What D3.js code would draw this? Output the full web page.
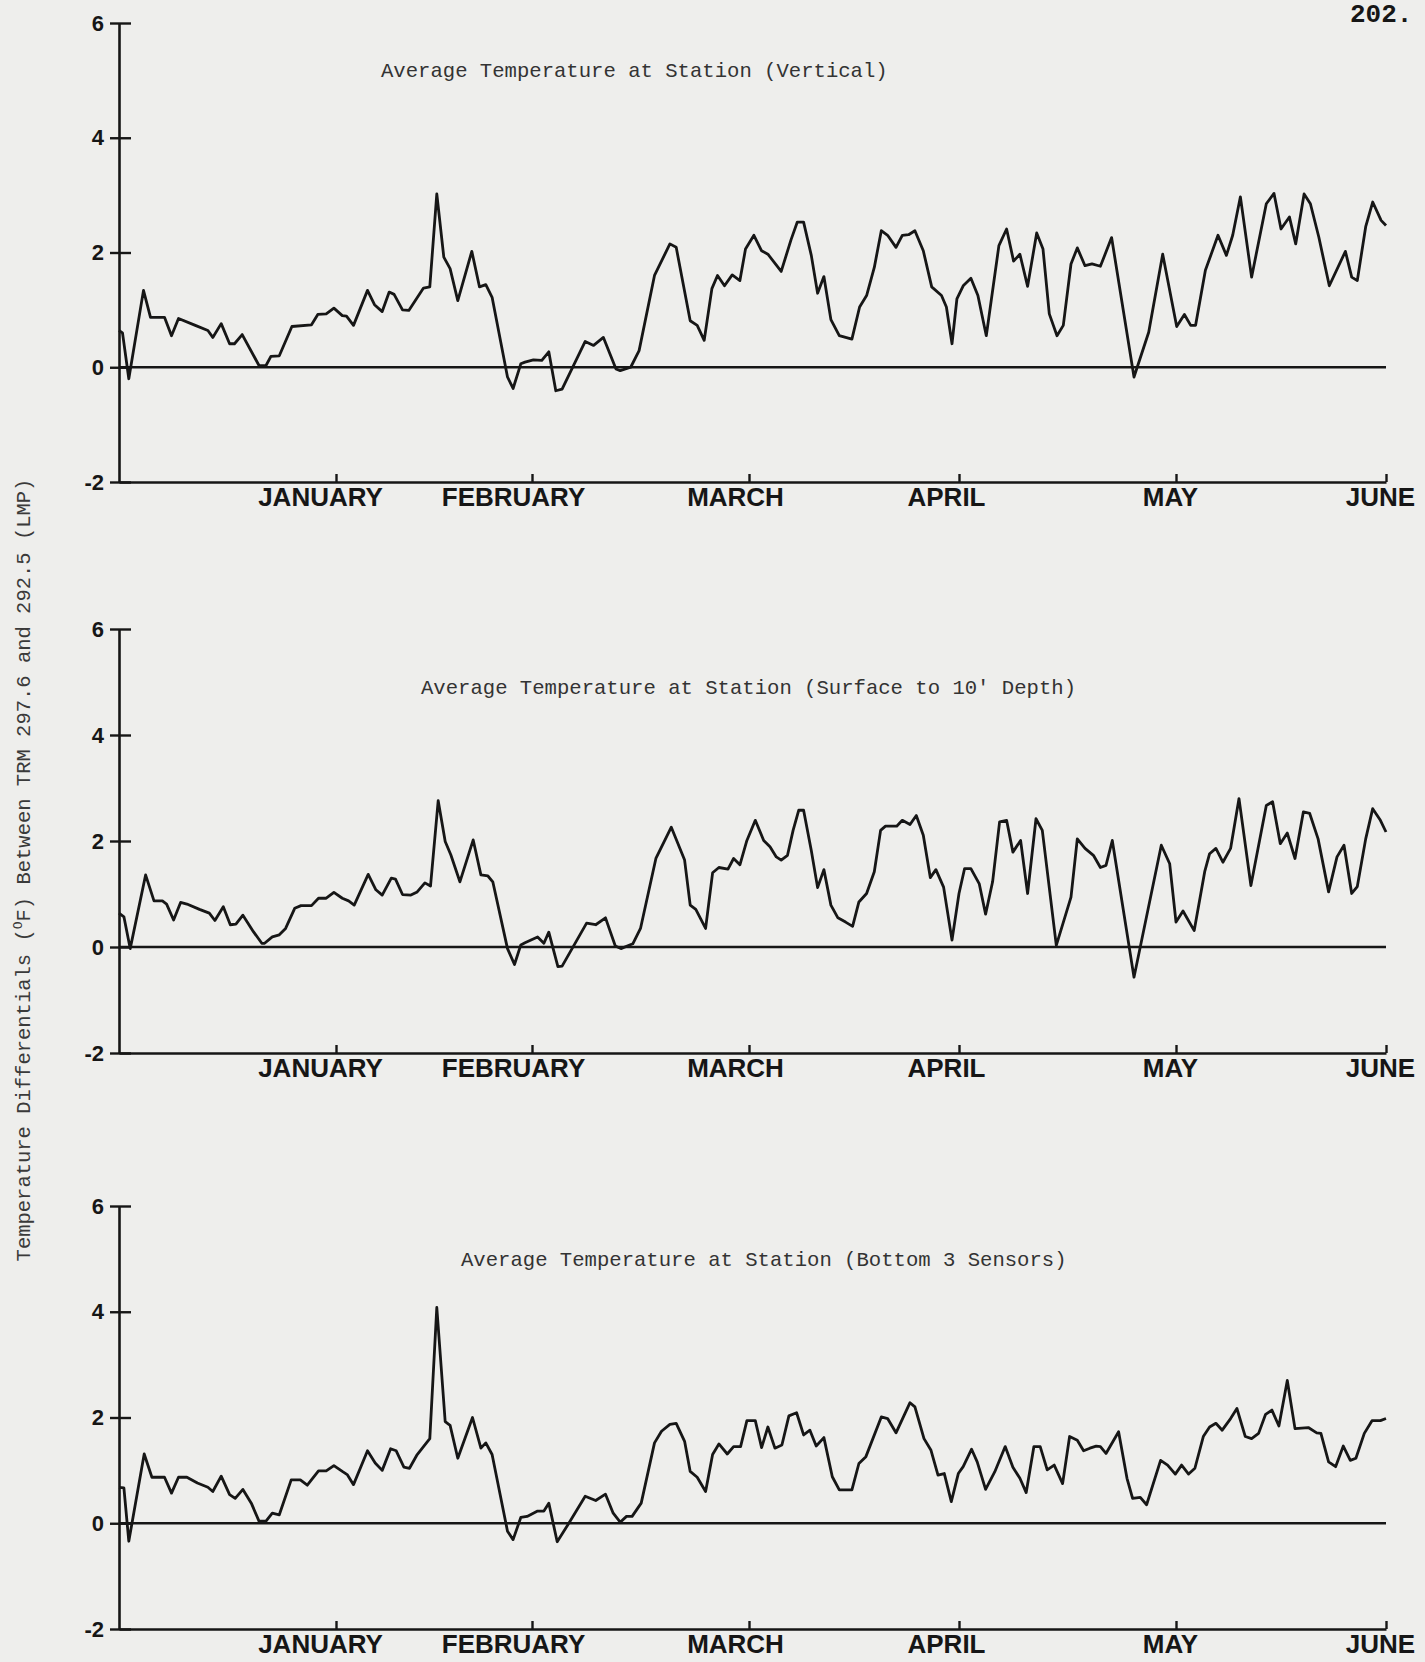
<!DOCTYPE html>
<html>
<head>
<meta charset="utf-8">
<script src="https://cdn.jsdelivr.net/npm/d3@7"></script>
<style>
	body { margin: 0; background: #eeeeec; }
	svg { display: block; }
</style>
</head>
<body>
<svg id="chart"></svg>
<script>
// day of year (0 = Jan 1) and temperature differential
var monthNames = ["JANUARY", "FEBRUARY", "MARCH", "APRIL", "MAY", "JUNE"];
var monthEndDays = [31, 59, 90, 120, 151, 181];
var yTickValues = [-2, 0, 2, 4, 6];
var panelTitles = [
	"Average Temperature at Station (Vertical)",
	"Average Temperature at Station (Surface to 10' Depth)",
	"Average Temperature at Station (Bottom 3 Sensors)"
];
var pageNumber = "202.";

var verticalSeries = [[0,0.64],[0.5,0.60],[1.4,-0.20],[3.5,1.34],[4.5,0.87],[6.5,0.87],[7.5,0.55],[8.5,0.85],[10.9,0.73],[12.7,0.64],[13.4,0.52],[14.6,0.76],[15.8,0.41],[16.5,0.41],[17.6,0.57],[20.0,0.03],[21.0,0.03],[21.7,0.19],[22.9,0.20],[24.7,0.71],[27.5,0.74],[28.4,0.92],[29.6,0.93],[30.7,1.03],[31.9,0.90],[32.5,0.89],[33.5,0.73],[35.5,1.34],[36.5,1.09],[37.6,0.97],[38.6,1.31],[39.3,1.27],[40.5,1.00],[41.4,0.99],[43.5,1.38],[44.4,1.40],[45.4,3.02],[46.4,1.92],[47.3,1.72],[48.4,1.16],[50.4,2.02],[51.5,1.40],[52.4,1.44],[53.3,1.22],[55.5,-0.17],[56.3,-0.37],[57.4,0.06],[58.0,0.09],[59.2,0.13],[60.4,0.12],[61.4,0.27],[62.4,-0.41],[63.3,-0.38],[66.6,0.45],[67.8,0.38],[69.2,0.52],[71.0,-0.03],[71.6,-0.06],[73.1,0.00],[74.3,0.29],[76.5,1.60],[78.7,2.15],[79.6,2.09],[81.6,0.81],[82.6,0.73],[83.6,0.47],[84.7,1.37],[85.5,1.60],[86.5,1.42],[87.6,1.61],[88.7,1.51],[89.5,2.06],[90.7,2.30],[91.8,2.03],[92.7,1.97],[94.6,1.67],[96.0,2.22],[96.9,2.53],[97.8,2.53],[98.9,1.95],[99.8,1.29],[100.7,1.58],[101.7,0.83],[102.9,0.55],[104.7,0.49],[105.8,1.05],[106.8,1.25],[107.9,1.74],[108.9,2.38],[109.8,2.30],[111.0,2.09],[111.9,2.30],[112.8,2.31],[113.7,2.38],[114.9,2.03],[116.1,1.40],[117.5,1.25],[118.2,1.05],[119.0,0.41],[119.7,1.19],[120.6,1.42],[121.7,1.55],[122.7,1.25],[123.9,0.55],[125.7,2.12],[126.8,2.41],[127.8,1.85],[128.7,1.97],[129.8,1.41],[131.1,2.34],[132.0,2.06],[132.9,0.93],[134.0,0.55],[134.9,0.73],[136.0,1.80],[136.9,2.08],[138.0,1.77],[139.0,1.80],[140.2,1.76],[141.8,2.26],[145.0,-0.17],[147.1,0.61],[149.1,1.97],[151.1,0.71],[152.2,0.92],[153.1,0.73],[153.8,0.73],[155.2,1.69],[157.0,2.30],[158.2,1.95],[159.1,2.30],[160.2,2.97],[161.8,1.57],[163.9,2.85],[165.0,3.03],[166.0,2.41],[167.2,2.62],[168.1,2.15],[169.3,3.02],[170.2,2.85],[171.4,2.27],[172.9,1.42],[175.2,2.02],[176.1,1.57],[176.9,1.51],[178.1,2.45],[179.1,2.88],[180.3,2.56],[181.0,2.47]];

var surfaceSeries = [[0,0.64],[0.7,0.57],[1.6,-0.03],[3.8,1.36],[5.0,0.87],[6.2,0.87],[6.8,0.81],[7.8,0.51],[8.8,0.84],[9.7,0.81],[11.5,0.71],[12.9,0.64],[13.7,0.50],[14.9,0.76],[15.9,0.42],[16.7,0.43],[17.7,0.60],[19.2,0.29],[20.4,0.07],[20.8,0.07],[21.9,0.19],[22.9,0.23],[23.8,0.35],[25.1,0.73],[26.0,0.78],[27.5,0.78],[28.5,0.92],[29.6,0.92],[30.7,1.03],[31.9,0.92],[32.8,0.87],[33.6,0.79],[35.6,1.37],[36.7,1.08],[37.6,0.98],[38.9,1.30],[39.5,1.28],[40.5,0.99],[41.7,0.98],[42.6,1.04],[43.7,1.21],[44.5,1.15],[45.6,2.76],[46.6,1.99],[47.4,1.74],[48.7,1.23],[50.6,2.02],[51.7,1.36],[52.7,1.34],[53.4,1.23],[55.5,-0.03],[56.5,-0.33],[57.4,0.04],[58.0,0.08],[59.8,0.19],[60.7,0.07],[61.4,0.28],[62.7,-0.37],[63.3,-0.36],[66.8,0.45],[68.1,0.42],[69.5,0.55],[70.9,0.02],[71.7,-0.03],[73.4,0.06],[74.5,0.35],[76.7,1.67],[78.9,2.26],[80.8,1.64],[81.6,0.79],[82.4,0.71],[83.8,0.35],[84.8,1.40],[85.7,1.50],[87.0,1.47],[87.8,1.67],[88.7,1.55],[89.7,2.01],[90.9,2.39],[92.1,2.01],[93.0,1.89],[93.9,1.70],[94.6,1.64],[95.5,1.73],[96.3,2.20],[97.1,2.58],[97.8,2.58],[98.9,1.82],[99.8,1.12],[100.7,1.46],[101.7,0.79],[102.7,0.55],[103.8,0.47],[104.8,0.39],[105.7,0.85],[106.8,1.01],[107.9,1.42],[108.8,2.20],[109.5,2.28],[111.1,2.28],[111.9,2.39],[113.0,2.31],[113.9,2.48],[114.9,2.11],[115.9,1.31],[116.7,1.46],[117.8,1.13],[119.0,0.13],[120.0,1.01],[120.8,1.48],[121.7,1.48],[122.9,1.19],[123.8,0.62],[124.8,1.23],[125.8,2.36],[126.8,2.39],[127.7,1.79],[128.8,2.01],[129.8,1.01],[131.0,2.42],[131.9,2.20],[133.9,0.03],[136.0,0.94],[136.9,2.04],[138.0,1.86],[139.2,1.73],[140.2,1.50],[141.0,1.54],[141.9,2.01],[145.0,-0.57],[148.9,1.92],[150.1,1.57],[151.0,0.47],[152.0,0.68],[153.6,0.31],[155.1,1.42],[155.8,1.76],[156.7,1.86],[157.7,1.60],[158.8,1.86],[160.0,2.80],[161.7,1.16],[163.9,2.67],[164.8,2.74],[165.9,1.95],[166.9,2.15],[168.0,1.67],[169.2,2.55],[170.1,2.52],[171.3,2.04],[172.8,1.04],[174.0,1.70],[175.0,1.92],[176.1,1.01],[176.9,1.14],[178.1,2.04],[179.1,2.61],[180.2,2.39],[181.0,2.17]];

var bottomSeries = [[0,0.68],[0.7,0.67],[1.4,-0.34],[3.6,1.31],[4.7,0.87],[6.5,0.87],[7.5,0.57],[8.5,0.87],[9.7,0.87],[11.2,0.76],[12.7,0.68],[13.4,0.60],[14.6,0.89],[15.8,0.54],[16.6,0.47],[17.7,0.64],[18.9,0.38],[20.0,0.04],[21.0,0.04],[21.9,0.19],[22.9,0.16],[24.6,0.82],[25.9,0.82],[26.9,0.72],[28.5,0.99],[29.6,0.99],[30.7,1.09],[31.9,0.98],[32.6,0.92],[33.5,0.73],[35.5,1.37],[36.6,1.14],[37.6,1.00],[38.8,1.41],[39.6,1.37],[40.7,1.06],[41.5,1.04],[42.6,1.30],[44.4,1.60],[45.4,4.08],[46.6,1.92],[47.3,1.85],[48.4,1.23],[50.5,2.00],[51.7,1.42],[52.4,1.52],[53.3,1.30],[55.5,-0.15],[56.3,-0.31],[57.4,0.11],[58.3,0.13],[59.8,0.23],[60.7,0.23],[61.4,0.38],[62.6,-0.35],[64.5,0.05],[66.6,0.51],[68.1,0.43],[69.5,0.55],[70.6,0.19],[71.6,0.02],[72.5,0.13],[73.3,0.13],[74.6,0.38],[76.5,1.52],[77.5,1.74],[78.7,1.87],[79.6,1.89],[80.8,1.55],[81.6,0.98],[82.6,0.87],[83.8,0.60],[84.8,1.30],[85.7,1.50],[86.9,1.31],[87.8,1.45],[88.8,1.45],[89.7,1.94],[90.9,1.94],[91.8,1.43],[92.7,1.82],[93.7,1.42],[94.7,1.48],[95.7,2.03],[96.8,2.09],[97.8,1.67],[98.7,1.76],[99.6,1.46],[100.7,1.62],[101.9,0.88],[102.9,0.63],[104.7,0.63],[105.7,1.13],[106.7,1.26],[108.9,2.01],[109.8,1.98],[111.0,1.71],[113.0,2.28],[113.7,2.20],[115.0,1.60],[116.0,1.38],[117.0,0.91],[117.9,0.94],[118.9,0.41],[119.9,0.94],[120.6,1.07],[121.8,1.40],[122.6,1.16],[123.8,0.64],[125.1,0.97],[126.6,1.45],[127.7,1.06],[128.7,0.85],[129.6,0.58],[130.7,1.45],[131.6,1.45],[132.6,1.01],[133.6,1.10],[134.8,0.75],[135.8,1.64],[136.9,1.57],[137.8,1.37],[138.7,1.42],[139.6,1.46],[140.2,1.45],[141.0,1.32],[142.8,1.73],[144.0,0.85],[144.8,0.47],[145.9,0.49],[146.8,0.35],[148.8,1.19],[149.8,1.10],[150.9,0.93],[151.8,1.10],[152.8,0.93],[153.7,1.04],[154.9,1.64],[155.8,1.82],[156.7,1.89],[157.6,1.76],[158.8,1.98],[159.7,2.17],[160.9,1.64],[161.8,1.60],[162.8,1.70],[163.8,2.06],[164.7,2.14],[165.7,1.84],[166.9,2.70],[168.0,1.79],[169.9,1.81],[171.1,1.71],[171.7,1.70],[172.8,1.16],[173.8,1.07],[174.9,1.46],[175.9,1.19],[176.7,1.23],[177.9,1.70],[179.0,1.94],[180.2,1.94],[181.0,1.98]];

var allSeries = [verticalSeries, surfaceSeries, bottomSeries];

// page layout of the three stacked plots (pixel positions, not data)
var panelLayout = [
	{top: 23, bottom: 482, titleX: 381, titleY: 77},
	{top: 629, bottom: 1053, titleX: 421, titleY: 694},
	{top: 1206, bottom: 1629, titleX: 461, titleY: 1266}
];
// the hand-lettered month names sit a little left of their end-of-month tick
var monthLabelShift = [-16, -19, -14, -13, -6, -6];

var ink = "#161616";
var monoFont = "'Liberation Mono', 'DejaVu Sans Mono', monospace";
var plotterFont = "'Liberation Sans', Arial, sans-serif";

var svg = d3.select("#chart").attr("width", 1425).attr("height", 1662);

svg.append("rect")
	.attr("width", 1425)
	.attr("height", 1662)
	.attr("fill", "#eeeeec");

var x = d3.scaleLinear().domain([0, 181]).range([119, 1386]);

panelLayout.forEach(function(p, i)
{
	var y = d3.scaleLinear().domain([-2, 6]).range([p.bottom, p.top]);
	var g = svg.append("g").classed("panel", 1);

	// month axis along the -2 line, ticks pointing up
	var xAxis = g.append("g")
		.attr("transform", "translate(0," + y(-2) + ")")
		.call(d3.axisBottom(x)
			.tickValues(monthEndDays)
			.tickSizeInner(-8)
			.tickSizeOuter(0)
			.tickPadding(2)
			.tickFormat(function(d, k) { return monthNames[k]; }));

	xAxis.select(".domain").attr("stroke", ink).attr("stroke-width", 2.6);
	xAxis.selectAll(".tick line").attr("stroke", ink).attr("stroke-width", 2.4);
	xAxis.selectAll(".tick text")
		.attr("x", function(d, k) { return monthLabelShift[k]; })
		.attr("dy", "0.86em")
		.attr("fill", ink)
		.attr("font-family", plotterFont)
		.attr("font-weight", "bold")
		.attr("font-size", "26px");

	// value axis, ticks cross the line
	var yAxis = g.append("g")
		.attr("transform", "translate(" + x(0) + ",0)")
		.call(d3.axisLeft(y)
			.tickValues(yTickValues)
			.tickSizeInner(9)
			.tickSizeOuter(0)
			.tickPadding(6)
			.tickFormat(d3.format("d")));

	yAxis.select(".domain").attr("stroke", ink).attr("stroke-width", 2.6);
	yAxis.selectAll(".tick line").attr("stroke", ink).attr("stroke-width", 2.4);
	yAxis.selectAll(".tick").append("line")
		.attr("x1", 0)
		.attr("x2", 12)
		.attr("stroke", ink)
		.attr("stroke-width", 2.4);
	yAxis.selectAll(".tick text")
		.text(function(d) { return d < 0 ? "-" + Math.abs(d) : d; })
		.attr("fill", ink)
		.attr("font-family", plotterFont)
		.attr("font-weight", "bold")
		.attr("font-size", "22px");

	// zero reference line
	g.append("line")
		.attr("x1", x(0))
		.attr("x2", x(181))
		.attr("y1", y(0))
		.attr("y2", y(0))
		.attr("stroke", ink)
		.attr("stroke-width", 2.4);

	g.append("path")
		.datum(allSeries[i])
		.attr("fill", "none")
		.attr("stroke", ink)
		.attr("stroke-width", 2.8)
		.attr("stroke-linejoin", "round")
		.attr("d", d3.line()
			.x(function(d) { return x(d[0]); })
			.y(function(d) { return y(d[1]); }));

	g.append("text")
		.text(panelTitles[i])
		.attr("x", p.titleX)
		.attr("y", p.titleY)
		.attr("fill", "#333")
		.attr("font-family", monoFont)
		.attr("font-size", "20.6px");
});

// shared y title, rotated
var yTitle = svg.append("text")
	.attr("transform", "translate(30,870) rotate(-90)")
	.attr("text-anchor", "middle")
	.attr("fill", "#3a3a3a")
	.attr("font-family", monoFont)
	.attr("font-size", "20.5px");
yTitle.append("tspan").text("Temperature Differentials (");
yTitle.append("tspan").text("O").attr("font-size", "13px").attr("dy", -8);
yTitle.append("tspan").text("F) Between TRM 297.6 and 292.5 (LMP)").attr("dy", 8);

svg.append("text")
	.text(pageNumber)
	.attr("x", 1350)
	.attr("y", 22)
	.attr("fill", ink)
	.attr("font-family", monoFont)
	.attr("font-weight", "bold")
	.attr("font-size", "26px");
</script>
</body>
</html>
